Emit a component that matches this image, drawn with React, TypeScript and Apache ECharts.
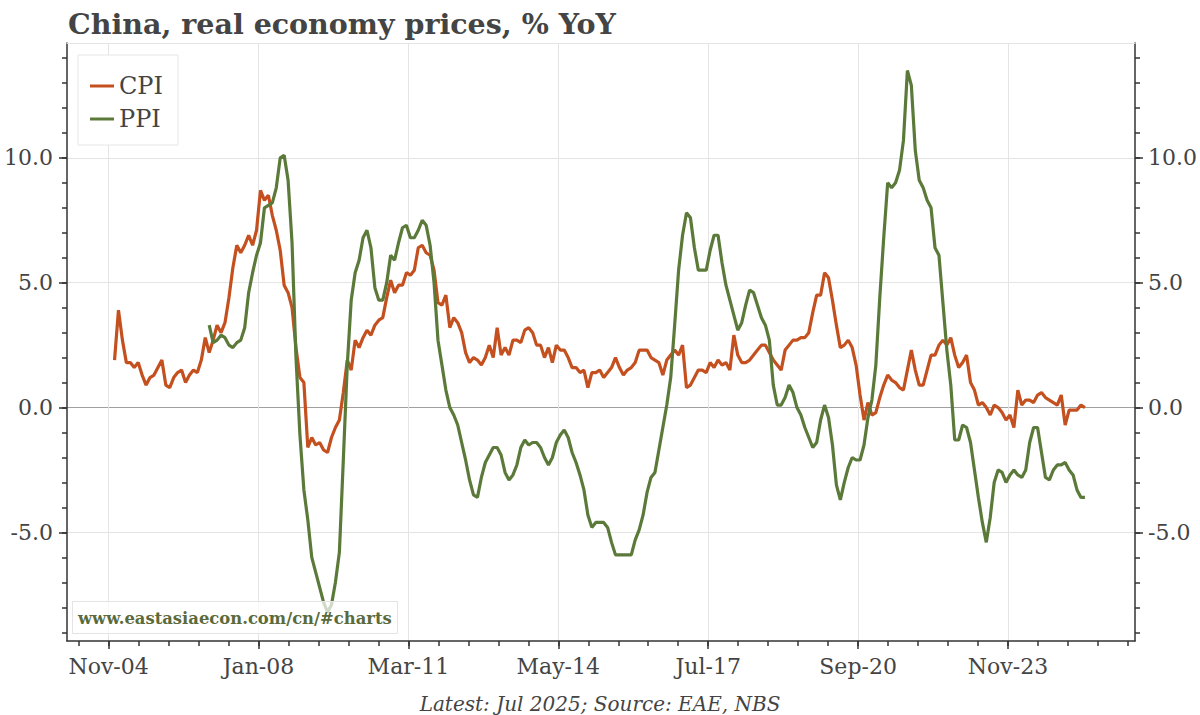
import React, { useEffect, useRef } from "react";
import * as echarts from "echarts";

const FONT = "'DejaVu Serif', serif";

const TITLE = "China, real economy prices, % YoY";
const SOURCE = "Latest: Jul 2025; Source: EAE, NBS";
const WATERMARK = "www.eastasiaecon.com/cn/#charts";

// CPI, % YoY, monthly from Jan 2005
const cpiStart = { year: 2005, month: 1 };
const cpiValues = [
  1.9, 3.9, 2.7, 1.8, 1.8, 1.6, 1.8, 1.3, 0.9, 1.2, 1.3, 1.6,
  1.9, 0.9, 0.8, 1.2, 1.4, 1.5, 1.0, 1.3, 1.5, 1.4, 1.9, 2.8,
  2.2, 2.7, 3.3, 3.0, 3.4, 4.4, 5.6, 6.5, 6.2, 6.5, 6.9, 6.5,
  7.1, 8.7, 8.3, 8.5, 7.7, 7.1, 6.3, 4.9, 4.6, 4.0, 2.4, 1.2,
  1.0, -1.6, -1.2, -1.5, -1.4, -1.7, -1.8, -1.2, -0.8, -0.5, 0.6, 1.9,
  1.5, 2.7, 2.4, 2.8, 3.1, 2.9, 3.3, 3.5, 3.6, 4.4, 5.1, 4.6,
  4.9, 4.9, 5.4, 5.3, 5.5, 6.4, 6.5, 6.2, 6.1, 5.5, 4.2, 4.1,
  4.5, 3.2, 3.6, 3.4, 3.0, 2.2, 1.8, 2.0, 1.9, 1.7, 2.0, 2.5,
  2.0, 3.2, 2.1, 2.4, 2.1, 2.7, 2.7, 2.6, 3.1, 3.2, 3.0, 2.5,
  2.5, 2.0, 2.4, 1.8, 2.5, 2.3, 2.3, 2.0, 1.6, 1.6, 1.4, 1.5,
  0.8, 1.4, 1.4, 1.5, 1.2, 1.4, 1.6, 2.0, 1.6, 1.3, 1.5, 1.6,
  1.8, 2.3, 2.3, 2.3, 2.0, 1.9, 1.8, 1.3, 1.9, 2.1, 2.3, 2.1,
  2.5, 0.8, 0.9, 1.2, 1.5, 1.5, 1.4, 1.8, 1.6, 1.9, 1.7, 1.8,
  1.5, 2.9, 2.1, 1.8, 1.8, 1.9, 2.1, 2.3, 2.5, 2.5, 2.2, 1.9,
  1.7, 1.5, 2.3, 2.5, 2.7, 2.7, 2.8, 2.8, 3.0, 3.8, 4.5, 4.5,
  5.4, 5.2, 4.3, 3.3, 2.4, 2.5, 2.7, 2.4, 1.7, 0.5, -0.5, 0.2,
  -0.3, -0.2, 0.4, 0.9, 1.3, 1.1, 1.0, 0.8, 0.7, 1.5, 2.3, 1.5,
  0.9, 0.9, 1.5, 2.1, 2.1, 2.5, 2.7, 2.5, 2.8, 2.1, 1.6, 1.8,
  2.1, 1.0, 0.7, 0.1, 0.2, 0.0, -0.3, 0.1, 0.0, -0.2, -0.5, -0.3,
  -0.8, 0.7, 0.1, 0.3, 0.3, 0.2, 0.5, 0.6, 0.4, 0.3, 0.2, 0.1,
  0.5, -0.7, -0.1, -0.1, -0.1, 0.1, 0.0,
];

// PPI, % YoY, monthly from Jan 2007
const ppiStart = { year: 2007, month: 1 };
const ppiValues = [
  3.3, 2.6, 2.7, 2.9, 2.8, 2.5, 2.4, 2.6, 2.7, 3.2, 4.6, 5.4,
  6.1, 6.6, 8.0, 8.1, 8.2, 8.8, 10.0, 10.1, 9.1, 6.6, 2.0, -1.1,
  -3.3, -4.5, -6.0, -6.6, -7.2, -7.8, -8.2, -7.9, -7.0, -5.8, -2.1, 1.7,
  4.3, 5.4, 5.9, 6.8, 7.1, 6.4, 4.8, 4.3, 4.3, 5.0, 6.1, 5.9,
  6.6, 7.2, 7.3, 6.8, 6.8, 7.1, 7.5, 7.3, 6.5, 5.0, 2.7, 1.7,
  0.7, 0.0, -0.3, -0.7, -1.4, -2.1, -2.9, -3.5, -3.6, -2.8, -2.2, -1.9,
  -1.6, -1.6, -1.9, -2.6, -2.9, -2.7, -2.3, -1.6, -1.3, -1.5, -1.4, -1.4,
  -1.6, -2.0, -2.3, -2.0, -1.4, -1.1, -0.9, -1.2, -1.8, -2.2, -2.7, -3.3,
  -4.3, -4.8, -4.6, -4.6, -4.6, -4.8, -5.4, -5.9, -5.9, -5.9, -5.9, -5.9,
  -5.3, -4.9, -4.3, -3.4, -2.8, -2.6, -1.7, -0.8, 0.1, 1.2, 3.3, 5.5,
  6.9, 7.8, 7.6, 6.4, 5.5, 5.5, 5.5, 6.3, 6.9, 6.9, 5.8, 4.9,
  4.3, 3.7, 3.1, 3.4, 4.1, 4.7, 4.6, 4.1, 3.6, 3.3, 2.7, 0.9,
  0.1, 0.1, 0.4, 0.9, 0.6, 0.0, -0.3, -0.8, -1.2, -1.6, -1.4, -0.5,
  0.1, -0.4, -1.5, -3.1, -3.7, -3.0, -2.4, -2.0, -2.1, -2.1, -1.5, -0.4,
  0.3, 1.7, 4.4, 6.8, 9.0, 8.8, 9.0, 9.5, 10.7, 13.5, 12.9, 10.3,
  9.1, 8.8, 8.3, 8.0, 6.4, 6.1, 4.2, 2.3, 0.9, -1.3, -1.3, -0.7,
  -0.8, -1.4, -2.5, -3.6, -4.6, -5.4, -4.4, -3.0, -2.5, -2.6, -3.0, -2.7,
  -2.5, -2.7, -2.8, -2.5, -1.4, -0.8, -0.8, -1.8, -2.8, -2.9, -2.5, -2.3,
  -2.3, -2.2, -2.5, -2.7, -3.3, -3.6, -3.6,
];

// x axis: months counted from the Nov-04 tick
const xMajorTicks = [0, 38, 76, 114, 152, 190, 228];
const xTickLabels = ["Nov-04", "Jan-08", "Mar-11", "May-14", "Jul-17", "Sep-20", "Nov-23"];
const xMinorStep = 7.6;
const xRange = [-10.55, 260.2];

const yMajorTicks = [-5, 0, 5, 10];
const yMinorStep = 1;
const yRange = [-9.35, 14.6];

const seriesNames = ["CPI", "PPI"];
const seriesColors = ["#c4501f", "#5b7a3a"];

const monthX = (start: { year: number; month: number }, i: number) =>
  (start.year - 2004) * 12 + (start.month - 1) + i - 10 - 0.5;

const xMinorTicks: number[] = [];
for (let v = Math.ceil(xRange[0] / xMinorStep) * xMinorStep; v <= xRange[1]; v += xMinorStep) {
  xMinorTicks.push(Math.round(v * 100) / 100);
}
const yMinorTicks: number[] = [];
for (let v = Math.ceil(yRange[0]); v <= yRange[1]; v += yMinorStep) yMinorTicks.push(v);

const TEXT = "#444";
const AXIS = "#333";
const GRID = "#e4e4e4";

function buildOption() {
  const labelStyle = { color: TEXT, fontFamily: FONT, fontSize: 22 };
  const xBase = {
    type: "value",
    min: xRange[0],
    max: xRange[1],
    position: "bottom",
  };
  const yBase = {
    type: "value",
    min: yRange[0],
    max: yRange[1],
  };
  return {
    animation: false,
    backgroundColor: "#ffffff",
    title: {
      text: TITLE,
      left: 63,
      top: 4,
      textStyle: { fontFamily: FONT, fontWeight: "bold", fontSize: 28.5, color: TEXT },
    },
    legend: {
      data: seriesNames,
      orient: "vertical",
      left: 78,
      top: 55,
      padding: [19, 15, 14, 12],
      itemGap: 9,
      itemWidth: 24,
      itemHeight: 3,
      icon: "rect",
      backgroundColor: "#ffffff",
      borderColor: "#e6e6e6",
      borderWidth: 1,
      textStyle: { fontFamily: FONT, fontSize: 24, color: TEXT, lineHeight: 24 },
    },
    grid: { left: 67, right: 65, top: 43, bottom: 74, containLabel: false, outerBoundsMode: "none" },
    xAxis: [
      {
        ...xBase,
        axisLine: { show: true, onZero: false, lineStyle: { color: AXIS, width: 1.5 } },
        axisTick: { show: true, customValues: xMajorTicks, length: 8, lineStyle: { color: AXIS, width: 1.5 } },
        axisLabel: {
          show: true,
          customValues: xMajorTicks,
          margin: 14,
          ...labelStyle,
          formatter: (v: number) => xTickLabels[xMajorTicks.indexOf(Math.round(v))] ?? "",
        },
        splitLine: { show: true, lineStyle: { color: GRID, width: 1 } },
      },
      {
        ...xBase,
        axisLine: { show: false, onZero: false },
        axisTick: { show: true, customValues: xMinorTicks, length: 5, lineStyle: { color: AXIS, width: 1.5 } },
        axisLabel: { show: false },
        splitLine: { show: false },
      },
      {
        ...xBase,
        position: "top",
        axisLine: { show: true, onZero: false, lineStyle: { color: GRID, width: 1 } },
        axisTick: { show: false },
        axisLabel: { show: false },
        splitLine: { show: false },
      },
    ],
    yAxis: [
      {
        ...yBase,
        position: "left",
        axisLine: { show: true, onZero: false, lineStyle: { color: AXIS, width: 1.5 } },
        axisTick: { show: true, customValues: yMajorTicks, length: 8, lineStyle: { color: AXIS, width: 1.5 } },
        axisLabel: {
          show: true,
          customValues: yMajorTicks,
          margin: 14,
          ...labelStyle,
          formatter: (v: number) => v.toFixed(1),
        },
        splitLine: { show: true, lineStyle: { color: [GRID, "#a0a0a0", GRID, GRID], width: 1.2 } },
      },
      {
        ...yBase,
        position: "left",
        axisLine: { show: false, onZero: false },
        axisTick: { show: true, customValues: yMinorTicks, length: 5, lineStyle: { color: AXIS, width: 1.5 } },
        axisLabel: { show: false },
        splitLine: { show: false },
      },
      {
        ...yBase,
        position: "right",
        axisLine: { show: true, onZero: false, lineStyle: { color: AXIS, width: 1.5 } },
        axisTick: { show: true, customValues: yMajorTicks, length: 8, lineStyle: { color: AXIS, width: 1.5 } },
        axisLabel: {
          show: true,
          customValues: yMajorTicks,
          margin: 13,
          ...labelStyle,
          formatter: (v: number) => v.toFixed(1),
        },
        splitLine: { show: false },
      },
      {
        ...yBase,
        position: "right",
        axisLine: { show: false, onZero: false },
        axisTick: { show: true, customValues: yMinorTicks, length: 5, lineStyle: { color: AXIS, width: 1.5 } },
        axisLabel: { show: false },
        splitLine: { show: false },
      },
    ],
    series: [
      {
        name: seriesNames[0],
        type: "line",
        xAxisIndex: 0,
        yAxisIndex: 0,
        data: cpiValues.map((v, i) => [monthX(cpiStart, i), v]),
        showSymbol: false,
        symbol: "none",
        lineStyle: { color: seriesColors[0], width: 3.2 },
        itemStyle: { color: seriesColors[0] },
        z: 3,
      },
      {
        name: seriesNames[1],
        type: "line",
        xAxisIndex: 0,
        yAxisIndex: 0,
        data: ppiValues.map((v, i) => [monthX(ppiStart, i), v]),
        showSymbol: false,
        symbol: "none",
        lineStyle: { color: seriesColors[1], width: 3.2 },
        itemStyle: { color: seriesColors[1] },
        z: 4,
      },
    ],
    graphic: [
      {
        type: "rect",
        z: 100,
        shape: { x: 72.5, y: 601.5, width: 325, height: 32 },
        style: { fill: "rgba(255,255,255,0.72)", stroke: "#e4e4e4", lineWidth: 1 },
      },
      {
        type: "text",
        z: 101,
        x: 78,
        y: 618,
        style: {
          text: WATERMARK,
          fill: "#5b6a3a",
          font: `bold 16.4px ${FONT}`,
          verticalAlign: "middle",
        },
      },
      {
        type: "text",
        z: 101,
        x: 600,
        y: 704,
        style: {
          text: SOURCE,
          fill: TEXT,
          font: `italic 20px ${FONT}`,
          align: "center",
          verticalAlign: "middle",
        },
      },
    ],
  };
}

export default function App() {
  const ref = useRef<HTMLDivElement>(null);
  useEffect(() => {
    if (!ref.current) return;
    const chart = echarts.init(ref.current, null, { renderer: "svg" });
    chart.setOption(buildOption() as any);
    return () => chart.dispose();
  }, []);
  return (
    <div
      ref={ref}
      style={{ position: "absolute", left: 0, top: 0, width: 1200, height: 715, background: "#fff" }}
    />
  );
}
